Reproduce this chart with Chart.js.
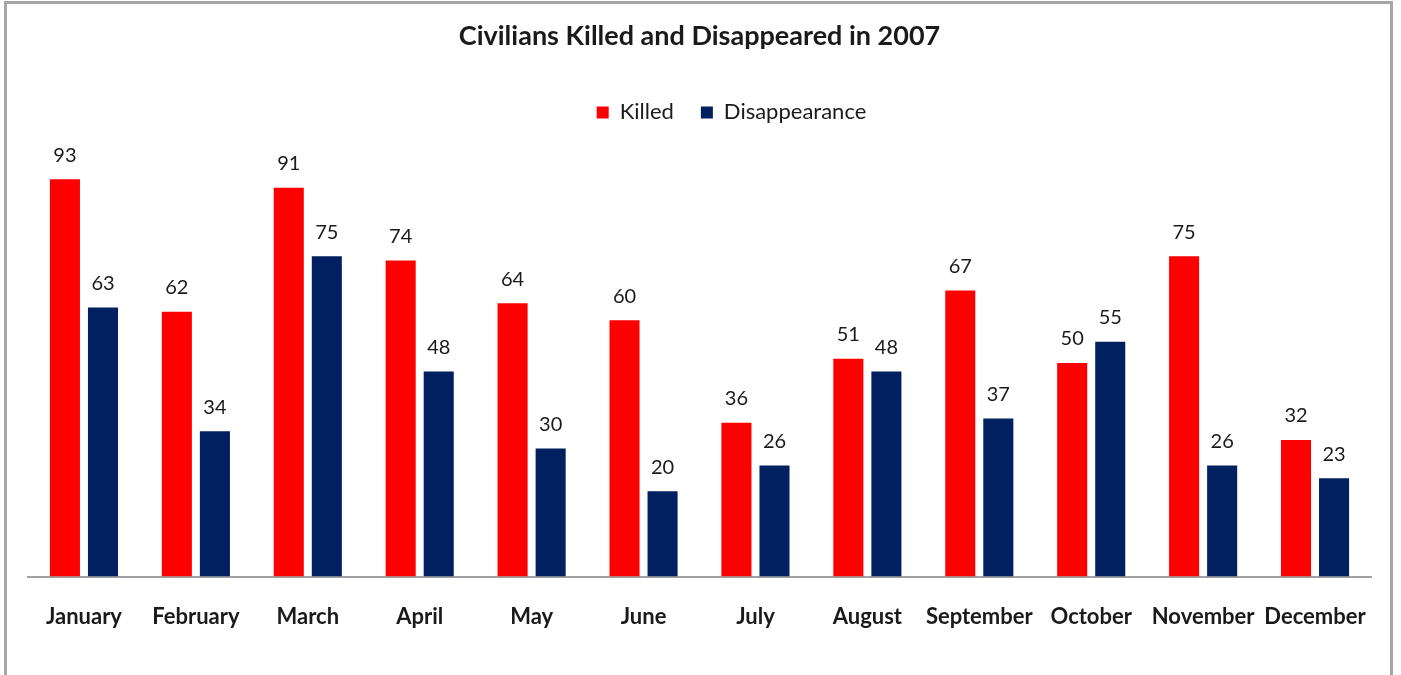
<!DOCTYPE html>
<html>
<head>
<meta charset="utf-8">
<script src="https://cdn.jsdelivr.net/npm/chart.js@4"></script>
<style>
  html, body { margin: 0; padding: 0; background: #fff; overflow: hidden; }
  #wrap { position: relative; width: 1401px; height: 675px; }
  #frame { position: absolute; left: 4px; top: 1px; width: 1383px; height: 700px;
           border: 3px solid #a6a6a6; pointer-events: none; }
</style>
</head>
<body>
<div id="wrap">
  <canvas id="chart" width="1401" height="675"></canvas>
  <div id="frame"></div>
</div>
<script>
// data
const months = ['January', 'February', 'March', 'April', 'May', 'June', 'July', 'August', 'September', 'October', 'November', 'December'];
const killed = [93, 62, 91, 74, 64, 60, 36, 51, 67, 50, 75, 32];
const disappeared = [63, 34, 75, 48, 30, 20, 26, 48, 37, 55, 26, 23];

const font = 'Lato';

// draw the value above every bar
const valueLabels = {
  id: 'valueLabels',
  afterDatasetsDraw(chart) {
    const ctx = chart.ctx;
    ctx.save();
    ctx.font = '20px ' + font;
    ctx.fillStyle = '#1a1a1a';
    ctx.textAlign = 'center';
    ctx.textBaseline = 'bottom';
    chart.data.datasets.forEach((ds, i) => {
      chart.getDatasetMeta(i).data.forEach((bar, j) => {
        ctx.fillText(ds.data[j], bar.x, bar.y - 14);
      });
    });
    ctx.restore();
  }
};

// more room under the legend, and legend sits a little right of centre
const legendSpace = {
  id: 'legendSpace',
  beforeInit(chart) {
    const fit = chart.legend.fit;
    chart.legend.fit = function () {
      fit.call(this);
      this.height += 16;
    };
  },
  afterLayout(chart) {
    chart.legend.left += 32;
    chart.legend.right += 32;
  }
};

new Chart(document.getElementById('chart').getContext('2d'), {
  type: 'bar',
  data: {
    labels: months,
    datasets: [{
      label: 'Killed',
      data: killed,
      backgroundColor: '#ff0000',
      barPercentage: 0.79,
      categoryPercentage: 0.68,
    }, {
      label: 'Disappearance',
      data: disappeared,
      backgroundColor: '#002060',
      barPercentage: 0.79,
      categoryPercentage: 0.68,
    }]
  },
  options: {
    responsive: false,
    animation: false,
    layout: {
      padding: { top: 10, left: 28, right: 30, bottom: 18 }
    },
    scales: {
      x: {
        grid: { display: false, drawTicks: false },
        border: { display: true, color: '#a0a0a0', width: 2 },
        ticks: {
          padding: 27,
          color: '#1a1a1a',
          maxRotation: 0,
          autoSkip: false,
          font: { family: font, size: 22, weight: 'bold' }
        }
      },
      y: {
        display: false,
        min: 0,
        max: 100
      }
    },
    plugins: {
      title: {
        display: true,
        text: 'Civilians Killed and Disappeared in 2007',
        color: '#1a1a1a',
        font: { family: font, size: 27, weight: 'bold' },
        padding: { top: 10, bottom: 22 }
      },
      legend: {
        position: 'top',
        labels: {
          boxWidth: 12,
          boxHeight: 12,
          padding: 27,
          color: '#1a1a1a',
          font: { family: font, size: 22 }
        }
      },
      tooltip: { enabled: false }
    }
  },
  plugins: [valueLabels, legendSpace]
});
</script>
</body>
</html>
